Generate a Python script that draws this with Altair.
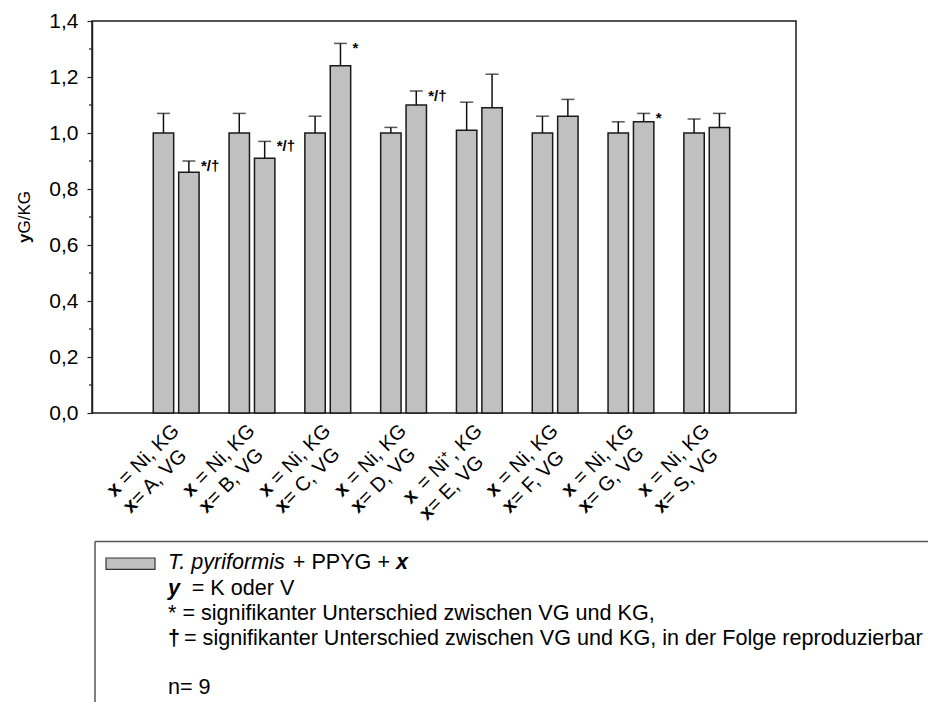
import altair as alt
import pandas as pd

FONT = "Liberation Sans"

# ---- data -------------------------------------------------------------
groups = ["A", "B", "C", "D", "E", "F", "G", "S"]
kg_labels = ["x = Ni, KG", "x = Ni, KG", "x = Ni, KG", "x = Ni, KG",
             "x = Ni⁺, KG", "x = Ni, KG", "x = Ni, KG", "x = Ni, KG"]
vg_labels = ["x = A, VG", "x = B, VG", "x = C, VG", "x = D, VG",
             "x = E, VG", "x = F, VG", "x = G, VG", "x = S, VG"]
kg_mean = [1.00, 1.00, 1.00, 1.00, 1.01, 1.00, 1.00, 1.00]
kg_err = [0.07, 0.07, 0.06, 0.02, 0.10, 0.06, 0.04, 0.05]
vg_mean = [0.86, 0.91, 1.24, 1.10, 1.09, 1.06, 1.04, 1.02]
vg_err = [0.04, 0.06, 0.08, 0.05, 0.12, 0.06, 0.03, 0.05]
vg_sig = ["*/†", "*/†", "*", "*/†", "", "", "*", ""]
y_ticks = [0.0, 0.2, 0.4, 0.6, 0.8, 1.0, 1.2, 1.4]
y_minor = [0.1, 0.3, 0.5, 0.7, 0.9, 1.1, 1.3]

legend_species = "T. pyriformis"
legend_medium = "+ PPYG + "
legend_y = "= K oder V"
legend_star = "* = signifikanter Unterschied zwischen VG und KG,"
legend_dagger = "= signifikanter Unterschied zwischen VG und KG, in der Folge reproduzierbar"
legend_n = "n= 9"

# ---- tables -----------------------------------------------------------
rows = []
for i, g in enumerate(groups):
    rows.append(dict(group=g, cond="KG", mean=kg_mean[i], upper=kg_mean[i] + kg_err[i], sig=""))
    rows.append(dict(group=g, cond="VG", mean=vg_mean[i], upper=vg_mean[i] + vg_err[i], sig=vg_sig[i]))
bars_df = pd.DataFrame(rows)

# Arial / Liberation Sans advance widths (1/1000 em) for laying out mixed-weight labels
ADV = {' ': 278, '=': 584, 'N': 722, 'i': 222, ',': 278, 'K': 667, 'G': 778, 'A': 667,
       'B': 667, 'C': 722, 'D': 722, 'E': 667, 'F': 611, 'S': 667, 'V': 667, '+': 584,
       '⁺': 500, 'x': 500, 'T': 611, '.': 278, 'p': 556, 'y': 500, 'r': 333, 'f': 278,
       'o': 556, 'm': 833, 's': 500, 'P': 667, 'Y': 667, '/': 278}
BOLD_X = 556


def text_w(s, size):
    return sum(ADV.get(c, 556) for c in s) * size / 1000.0


LAB_FS = 20
lab_df = pd.DataFrame({
    "group": groups,
    "rest1": [s[1:] for s in kg_labels],
    "rest2": [s[1:] for s in vg_labels],
})
lab_df["w1"] = [round(text_w(s[1:], LAB_FS), 2) for s in kg_labels]
lab_df["variant"] = ["v%d" % sorted(set(lab_df["w1"])).index(w) for w in lab_df["w1"]]

W, H = 704, 392

x_scale = alt.Scale(domain=groups, paddingInner=0, paddingOuter=0.644, align=0.474)
y_scale = alt.Scale(domain=[0, 1.4], nice=False, zero=True)
y_axis = alt.Axis(values=y_ticks, labelExpr="replace(format(datum.value, '.1f'), '.', ',')",
                  title=None, grid=False, tickSize=5, tickWidth=1.2, tickColor="#222",
                  domainColor="#222", domainWidth=1.5, labelFont=FONT, labelFontSize=21,
                  labelColor="black", labelPadding=9)

X = alt.X("group:N", scale=x_scale, axis=None)
XO = alt.XOffset("cond:N", scale=alt.Scale(domain=["KG", "VG"], paddingInner=0.197, paddingOuter=0.59))

base = alt.Chart(bars_df)

bars = base.mark_bar(fill="#c0c0c0", stroke="#1a1a1a", strokeWidth=1.5).encode(
    x=X, xOffset=XO, y=alt.Y("mean:Q", scale=y_scale, axis=y_axis))

err_line = base.mark_rule(color="#111", strokeWidth=1.5).encode(
    x=X, xOffset=XO, y=alt.Y("mean:Q", scale=y_scale, axis=y_axis), y2="upper:Q")

err_cap = base.mark_tick(color="#111", thickness=1.5, size=13, orient="horizontal").encode(
    x=X, xOffset=XO, y=alt.Y("upper:Q", scale=y_scale, axis=y_axis))

sig_text = base.transform_filter(alt.datum.cond == "VG").mark_text(
    align="left", baseline="middle", dx=12, dy=5, font=FONT, fontSize=15,
    fontWeight="bold", color="black").encode(
    x=X, xOffset=XO, y=alt.Y("upper:Q", scale=y_scale, axis=y_axis), text="sig:N")

minor = alt.Chart(pd.DataFrame({"v": y_minor})).mark_rule(color="#222", strokeWidth=1.2).encode(
    y=alt.Y("v:Q", scale=y_scale, axis=y_axis), x=alt.value(-3), x2=alt.value(0))

# ---- rotated category labels (bold "x" + regular remainder) -----------
SX, SY, LINE = 2.83, 2.83, 23
lab_y = alt.value(H + 19)
lab_x = alt.X("group:N", scale=x_scale, axis=None)
lab_base = alt.Chart(lab_df)
lab_layers = [
    lab_base.mark_text(align="right", baseline="alphabetic", angle=315, dx=SX, dy=SY,
                       font=FONT, fontSize=LAB_FS, color="black").encode(
        x=lab_x, y=lab_y, text="rest1:N")
]
for var, sub in lab_df.groupby("variant"):
    w_rest = float(sub["w1"].iloc[0])
    w_line = w_rest + BOLD_X * LAB_FS / 1000.0
    flt = lab_base.transform_filter(alt.datum.variant == var)
    lab_layers.append(flt.mark_text(text="x", align="right", baseline="alphabetic", angle=315,
                                    dx=SX - w_rest, dy=SY, font=FONT, fontSize=LAB_FS,
                                    fontWeight="bold", color="black").encode(x=lab_x, y=lab_y))
    lab_layers.append(flt.mark_text(text="x", align="left", baseline="alphabetic", angle=315,
                                    dx=SX - w_line, dy=SY + LINE, font=FONT, fontSize=LAB_FS,
                                    fontWeight="bold", color="black").encode(x=lab_x, y=lab_y))
    lab_layers.append(flt.mark_text(align="left", baseline="alphabetic", angle=315,
                                    dx=SX - w_line + BOLD_X * LAB_FS / 1000.0, dy=SY + LINE,
                                    font=FONT, fontSize=LAB_FS, color="black").encode(
        x=lab_x, y=lab_y, text="rest2:N"))

# ---- y title: bold "y" followed by "G/KG", reading upward ----------------
one = pd.DataFrame({"k": [0]})
TFS = 17
t_total = BOLD_X * TFS / 1000.0 + text_w("G/KG", TFS)
t_split = H / 2 + t_total / 2 - BOLD_X * TFS / 1000.0
title_y = alt.Chart(one).mark_text(text="y", angle=270, align="right", baseline="middle",
                                   font=FONT, fontSize=TFS, fontWeight="bold", color="black").encode(
    x=alt.value(-67), y=alt.value(t_split))
title_rest = alt.Chart(one).mark_text(text="G/KG", angle=270, align="left", baseline="middle",
                                      font=FONT, fontSize=TFS, color="black").encode(
    x=alt.value(-67), y=alt.value(t_split))

# ---- legend box --------------------------------------------------------
LFS = 21.6
TX = 76
box_top = alt.Chart(one).mark_rule(color="#555", strokeWidth=1.5).encode(
    x=alt.value(3), x2=alt.value(W + 140), y=alt.value(520.5))
box_left = alt.Chart(one).mark_rule(color="#555", strokeWidth=1.5).encode(
    x=alt.value(3), y=alt.value(520.5), y2=alt.value(H + 300))
swatch = alt.Chart(one).mark_rect(fill="#c0c0c0", stroke="#333", strokeWidth=1.2).encode(
    x=alt.value(14), x2=alt.value(63), y=alt.value(537), y2=alt.value(548.3))


def legend_text(text, x, y, **kw):
    return alt.Chart(one).mark_text(text=text, align="left", baseline="middle", font=FONT,
                                    fontSize=LFS, color="black", **kw).encode(
        x=alt.value(x), y=alt.value(y))


x_medium = TX + text_w(legend_species + " ", LFS)
x_var = x_medium + text_w(legend_medium, LFS)
legend_layers = [
    box_top, box_left, swatch,
    legend_text(legend_species, TX, 542.3, fontStyle="italic"),
    legend_text(legend_medium, x_medium, 542.3),
    legend_text("x", x_var, 542.3, fontStyle="italic", fontWeight="bold"),
    legend_text("y", TX, 568.3, fontStyle="italic", fontWeight="bold"),
    legend_text(legend_y, 99.7, 568.3),
    legend_text(legend_star, TX, 593),
    legend_text("†", TX, 618, fontWeight="bold"),
    legend_text(legend_dagger, 92, 618),
    legend_text(legend_n, TX, 666.7),
]

chart = alt.layer(
    bars, err_line, err_cap, sig_text, minor, *lab_layers, title_y, title_rest, *legend_layers
).properties(
    width=W, height=H,
    autosize=alt.AutoSizeParams(type="none"),
    padding={"left": 92, "top": 21, "right": 132, "bottom": 289},
    background="white",
).configure_view(stroke="#1a1a1a", strokeWidth=1.5)

chart.save("out.html", embed_options={"renderer": "svg", "actions": False})
